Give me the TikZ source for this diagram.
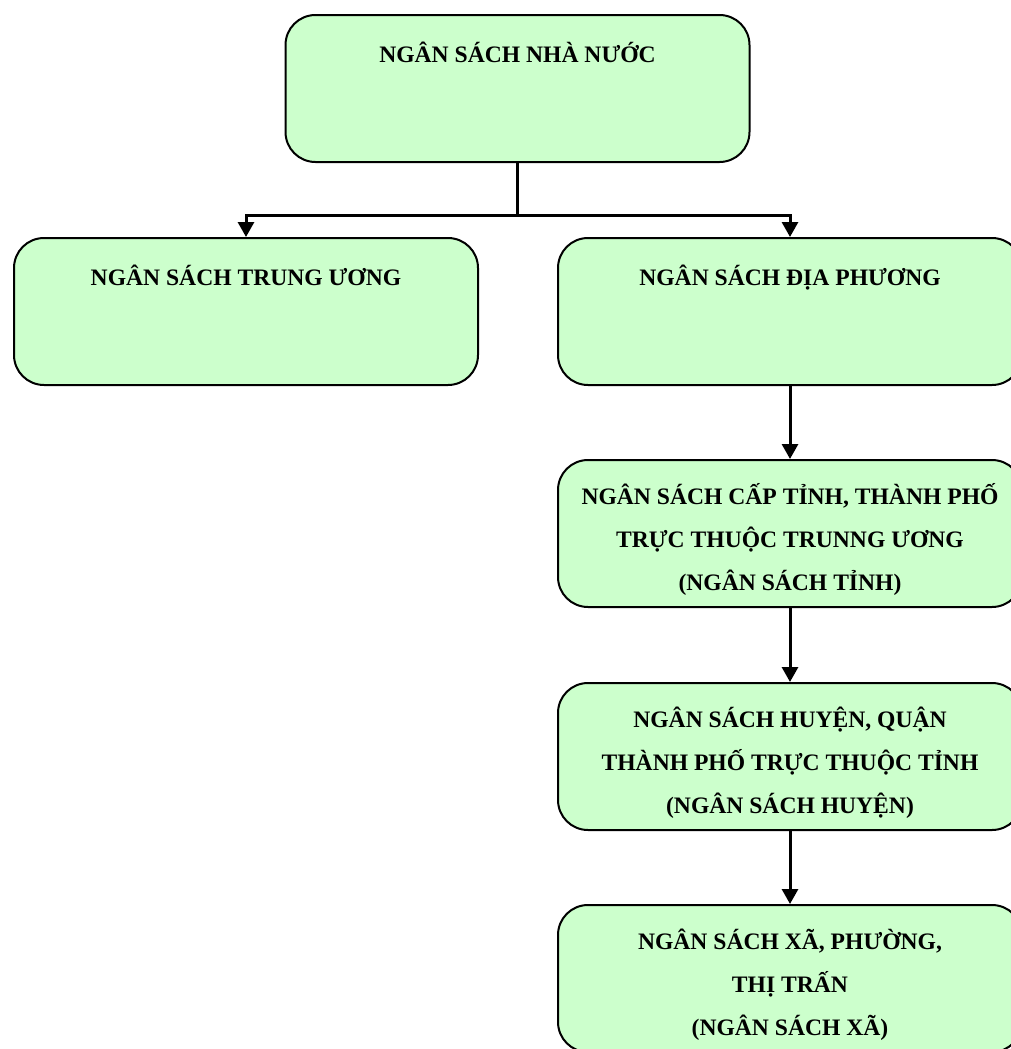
\documentclass[tikz,border=0pt]{standalone}
\usepackage{fontspec}
\setmainfont{Liberation Serif}
\usetikzlibrary{arrows.meta}
\definecolor{boxgreen}{RGB}{204,255,204}
\newcommand{\toppad}{\rule{0pt}{16.8pt}}
\tikzset{
  budget/.style={draw=black, line width=1pt, fill=boxgreen, rounded corners=15pt,
    minimum width=232pt, minimum height=73.5pt, inner sep=2pt, align=center,
    font=\bfseries\fontsize{11.8pt}{21.5pt}\selectfont},
  link/.style={line width=1.5pt, -{Triangle[width=8pt,length=7.5pt]}}
}
\begin{document}
\begin{tikzpicture}[x=0.5pt, y=-0.5pt]
            \useasboundingbox (0,0) rectangle (1011,1049);
            % boxes
            \node[budget] (nn) at (517.5,88.5) {\toppad NGÂN SÁCH NHÀ NƯỚC\\ \mbox{}\\ \mbox{}};
            \node[budget] (tw) at (246,311.5) {\toppad NGÂN SÁCH TRUNG ƯƠNG\\ \mbox{}\\ \mbox{}};
            \node[budget] (dp) at (790,311.5) {\toppad NGÂN SÁCH ĐỊA PHƯƠNG\\ \mbox{}\\ \mbox{}};
            \node[budget] (tinh) at (790,533.5) {\toppad NGÂN SÁCH CẤP TỈNH, THÀNH PHỐ\\ TRỰC THUỘC TRUNNG ƯƠNG\\ (NGÂN SÁCH TỈNH)};
            \node[budget] (huyen) at (790,756.5) {\toppad NGÂN SÁCH HUYỆN, QUẬN\\ THÀNH PHỐ TRỰC THUỘC TỈNH\\ (NGÂN SÁCH HUYỆN)};
            \node[budget] (xa) at (790,978.5) {\toppad NGÂN SÁCH XÃ, PHƯỜNG,\\ THỊ TRẤN\\ (NGÂN SÁCH XÃ)};
            % connectors
            \coordinate (split) at (517.5,215);
            \draw[line width=1.5pt] (nn.south) -- (split);
            \draw[link] (split) -| (tw.north);
            \draw[link] (split) -| (dp.north);
            \draw[link] (dp.south) -- (tinh.north);
            \draw[link] (tinh.south) -- (huyen.north);
            \draw[link] (huyen.south) -- (xa.north);
\end{tikzpicture}
\end{document}
